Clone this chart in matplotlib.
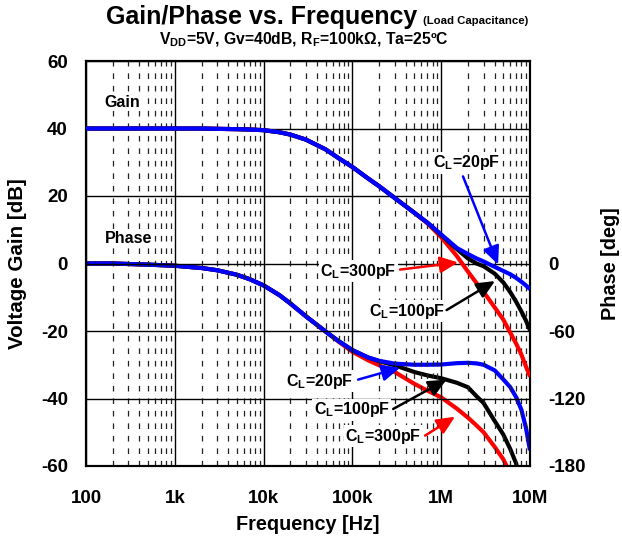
import matplotlib
matplotlib.use("Agg")
import matplotlib.pyplot as plt
from matplotlib.ticker import FixedLocator, LogLocator, NullFormatter

# ---------------- data ----------------
freq = [100, 200, 500, 1e3, 2e3, 3e3, 5e3, 7e3, 1e4, 1.5e4, 2e4, 3e4, 5e4, 7e4,
        1e5, 1.5e5, 2e5, 3e5, 5e5, 7e5, 1e6, 1.5e6, 2e6, 2.5e6, 3e6, 4e6, 5e6,
        6e6, 7e6, 8e6, 9e6, 1e7]

gain_20pF = [40.0, 40.0, 40.0, 40.0, 40.0, 39.9, 39.8, 39.7, 39.5, 38.9, 38.2, 36.7,
             33.8, 31.2, 28.6, 25.2, 22.9, 19.4, 15.0, 12.1, 8.6, 4.6, 2.8, 1.5, 0.6,
             -1.0, -2.2, -3.2, -4.3, -5.4, -6.5, -7.6]
gain_100pF = [40.0, 40.0, 40.0, 40.0, 40.0, 39.9, 39.8, 39.7, 39.5, 38.9, 38.2, 36.7,
              33.8, 31.2, 28.6, 25.2, 22.9, 19.4, 15.0, 12.1, 8.4, 4.3, 1.5, 0.0, -0.8,
              -3.0, -5.6, -8.5, -11.4, -14.2, -16.9, -19.8]
gain_300pF = [40.0, 40.0, 40.0, 40.0, 40.0, 39.9, 39.8, 39.7, 39.5, 38.9, 38.2, 36.7,
              33.8, 31.2, 28.6, 25.2, 22.9, 19.4, 15.0, 11.9, 7.8, 2.2, -2.4, -5.8, -8.4,
              -13.0, -16.6, -20.5, -23.8, -27.0, -30.5, -33.5]

freq_phase_20pF = freq
phase_20pF = [0, 0, -1, -2, -4, -6, -10, -14, -19.5, -28, -35.5, -47, -60.5, -69,
              -77, -83.5, -86.5, -89, -90, -90, -89.8, -88.6, -88.3, -88.8, -90,
              -95, -103, -110, -119, -130, -146, -166]

freq_phase_100pF = [100, 200, 500, 1e3, 2e3, 3e3, 5e3, 7e3, 1e4, 1.5e4, 2e4, 3e4, 5e4,
                    7e4, 1e5, 1.5e5, 2e5, 3e5, 5e5, 7e5, 1e6, 1.5e6, 2e6, 2.5e6, 3e6,
                    4e6, 5e6, 6e6, 7e6, 7.1e6]
phase_100pF = [0, 0, -1, -2, -4, -6, -10, -14, -19.5, -28, -35.5, -47, -60.5, -69,
               -77, -83.5, -86.8, -90.5, -96.5, -99.5, -102, -106, -110, -118, -124,
               -140, -152, -165, -178, -180.5]

freq_phase_300pF = [100, 200, 500, 1e3, 2e3, 3e3, 5e3, 7e3, 1e4, 1.5e4, 2e4, 3e4, 5e4,
                    7e4, 1e5, 1.5e5, 2e5, 3e5, 5e5, 7e5, 1e6, 1.5e6, 2e6, 2.5e6, 3e6,
                    4e6, 5e6, 5.5e6]
phase_300pF = [0, 0, -1, -2, -4, -6, -10, -14, -19.5, -28, -35.5, -47, -60.5, -69.5,
               -78.5, -86, -90.5, -96.5, -107, -113, -119, -129, -137, -144, -150,
               -163, -174, -180.5]

x_ticks = [1e2, 1e3, 1e4, 1e5, 1e6, 1e7]
x_labels = ["100", "1k", "10k", "100k", "1M", "10M"]
gain_ticks = [-60, -40, -20, 0, 20, 40, 60]
phase_ticks = [0, -60, -120, -180]

# ---------------- style ----------------
plt.rcParams["font.family"] = ["Liberation Sans", "DejaVu Sans"]
plt.rcParams["font.weight"] = "bold"
plt.rcParams["axes.unicode_minus"] = False
plt.rcParams["mathtext.fontset"] = "custom"
plt.rcParams["mathtext.rm"] = "Liberation Sans:bold"
plt.rcParams["mathtext.it"] = "Liberation Sans:bold"
plt.rcParams["mathtext.bf"] = "Liberation Sans:bold"

fig = plt.figure(figsize=(6.22, 5.40), dpi=100)
W, H = 622, 540
L, R, T, B = 86, 530, 61, 466
ax = fig.add_axes([L / W, 1 - B / H, (R - L) / W, (B - T) / H])
ax2 = ax.twinx()

ax.set_xscale("log")
ax.set_xlim(1e2, 1e7)
ax.set_ylim(-60, 60)
ax2.set_ylim(-180, 180)

ax.xaxis.set_major_locator(FixedLocator(x_ticks))
ax.set_xticklabels(x_labels)
ax.xaxis.set_minor_locator(LogLocator(base=10, subs=range(2, 10), numticks=20))
ax.xaxis.set_minor_formatter(NullFormatter())
ax.set_yticks(gain_ticks)
ax2.set_yticks(phase_ticks)

ax.grid(True, which="major", axis="both", color="black", lw=1.0)
ax.grid(True, which="minor", axis="x", color="#222222", lw=0.9, linestyle=(0, (4.5, 5.5)))
ax.set_axisbelow(True)

ax.tick_params(axis="x", which="both", length=0, pad=17, labelsize=13.5)
ax.tick_params(axis="y", which="both", length=0, pad=13, labelsize=13.5)
ax2.tick_params(axis="y", which="both", length=0, pad=13, labelsize=13.5)
for lab in ax.get_xticklabels() + ax.get_yticklabels() + ax2.get_yticklabels():
    lab.set_fontweight("bold")

for sp in list(ax.spines.values()) + list(ax2.spines.values()):
    sp.set_linewidth(1.5)
    sp.set_color("black")

lw = 3.0
# gain curves
ax.plot(freq, gain_300pF, color="#ff0000", lw=lw, zorder=3, solid_capstyle="butt")
ax.plot(freq, gain_100pF, color="black", lw=lw, zorder=4, solid_capstyle="butt")
ax.plot(freq, gain_20pF, color="#0000ff", lw=lw, zorder=5, solid_capstyle="butt")
# phase curves
ax2.plot(freq_phase_300pF, phase_300pF, color="#ff0000", lw=lw, zorder=3, solid_capstyle="butt")
ax2.plot(freq_phase_100pF, phase_100pF, color="black", lw=lw, zorder=4, solid_capstyle="butt")
ax2.plot(freq_phase_20pF, phase_20pF, color="#0000ff", lw=lw, zorder=5, solid_capstyle="butt")

# axis labels
ax.set_xlabel("Frequency [Hz]", fontsize=14.3, fontweight="bold", va="center")
ax.xaxis.set_label_coords(0.5, (B - 525) / (B - T))
ax.set_ylabel("Voltage Gain [dB]", fontsize=14.8, fontweight="bold", va="center")
ax.yaxis.set_label_coords((18 - L) / (R - L), 0.5)
ax2.set_ylabel("Phase [deg]", fontsize=14.3, fontweight="bold", va="center", rotation=90)
ax2.yaxis.set_label_coords((610 - L) / (R - L), 0.5)

# titles
fig.text(417 / W, 1 - 24 / H, "Gain/Phase vs. Frequency", fontsize=18,
         fontweight="bold", ha="right", va="baseline")
fig.text(423 / W, 1 - 24 / H, "(Load Capacitance)", fontsize=8.2,
         fontweight="bold", ha="left", va="baseline")
fig.text(304 / W, 1 - 44 / H,
         r"$\mathrm{V_{DD}}$=5V, Gv=40dB, $\mathrm{R_{F}}$=100kΩ, Ta=25ºC",
         fontsize=11.3, fontweight="bold", ha="center", va="baseline")

box = dict(facecolor="white", edgecolor="none", pad=1.0)
tfs = 11.5
ax.text(259, 47.8, "Gain", fontsize=tfs, fontweight="bold", ha="center", va="center",
        bbox=box, zorder=6)
ax.text(300, 7.4, "Phase", fontsize=tfs, fontweight="bold", ha="center", va="center",
        bbox=box, zorder=6)


def arrow(axis, tip, tail, color):
    axis.annotate("", xy=tip, xytext=tail,
                  arrowprops=dict(arrowstyle="-|>,head_length=0.55,head_width=0.25",
                                  color=color, lw=1.8, mutation_scale=20,
                                  shrinkA=0, shrinkB=0), zorder=7)


# gain annotations
ax.text(1.94e6, 29.9, r"$\mathrm{C_L}$=20pF", fontsize=tfs, fontweight="bold",
        ha="center", va="center", bbox=box, zorder=6)
arrow(ax, (4.37e6, -0.3), (1.76e6, 25.8), "#0000ff")
ax.text(1.16e5, -2.3, r"$\mathrm{C_L}$=300pF", fontsize=tfs, fontweight="bold",
        ha="center", va="center", bbox=box, zorder=6)
arrow(ax, (1.55e6, 0.3), (3.44e5, -1.8), "#ff0000")
ax.text(4.08e5, -14.1, r"$\mathrm{C_L}$=100pF", fontsize=tfs, fontweight="bold",
        ha="center", va="center", bbox=box, zorder=6)
arrow(ax, (4.03e6, -5.2), (1.15e6, -13.8), "black")

# phase annotations (placed in the shared frame)
ax.text(4.32e4, -34.9, r"$\mathrm{C_L}$=20pF", fontsize=tfs, fontweight="bold",
        ha="center", va="center", bbox=box, zorder=6)
arrow(ax, (3.44e5, -30.9), (1.16e5, -34.4), "#0000ff")
ax.text(9.8e4, -43.3, r"$\mathrm{C_L}$=100pF", fontsize=tfs, fontweight="bold",
        ha="center", va="center", bbox=box, zorder=6)
arrow(ax, (1.15e6, -34.4), (2.88e5, -43.1), "black")
ax.text(2.23e5, -51.2, r"$\mathrm{C_L}$=300pF", fontsize=tfs, fontweight="bold",
        ha="center", va="center", bbox=box, zorder=6)
arrow(ax, (1.43e6, -45.4), (6.58e5, -51.0), "#ff0000")

ax.set_zorder(ax2.get_zorder() + 1)
ax.patch.set_visible(False)

fig.savefig("out.png", dpi=100)
